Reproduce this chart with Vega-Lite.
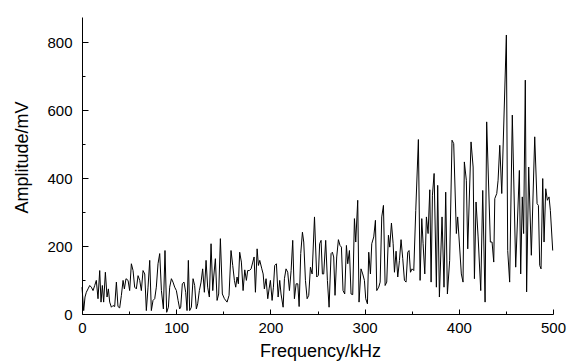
{
  "$schema": "https://vega.github.io/schema/vega-lite/v6.json",
  "width": 471,
  "height": 297,
  "autosize": {"type": "none"},
  "padding": {"left": 82, "top": 17, "right": 24, "bottom": 49},
  "background": "white",
  "config": {"view": {"stroke": null}, "font": "Liberation Sans"},
  "data": {"values": [
{"freq":0,"amp":79},{"freq":1.8,"amp":10},{"freq":3.2,"amp":50},{"freq":4.6,"amp":64},{"freq":6.4,"amp":74},{"freq":8.2,"amp":84},{"freq":9.9,"amp":79},{"freq":11.7,"amp":69},{"freq":13.5,"amp":84},{"freq":15.2,"amp":99},{"freq":17,"amp":45},{"freq":18.8,"amp":128},{"freq":20.2,"amp":35},{"freq":21.6,"amp":84},{"freq":23,"amp":35},{"freq":24.8,"amp":123},{"freq":26.6,"amp":50},{"freq":28,"amp":74},{"freq":29.4,"amp":35},{"freq":31.2,"amp":20},{"freq":32.9,"amp":25},{"freq":34.7,"amp":22},{"freq":36.5,"amp":94},{"freq":38.2,"amp":22},{"freq":40,"amp":18},{"freq":41.8,"amp":55},{"freq":43.6,"amp":99},{"freq":45,"amp":74},{"freq":46.7,"amp":104},{"freq":48.9,"amp":99},{"freq":50.6,"amp":69},{"freq":52.4,"amp":148},{"freq":54.2,"amp":128},{"freq":55.9,"amp":79},{"freq":57.7,"amp":74},{"freq":59.5,"amp":113},{"freq":61.3,"amp":99},{"freq":63,"amp":69},{"freq":64.8,"amp":128},{"freq":66.6,"amp":118},{"freq":68.3,"amp":10},{"freq":70.1,"amp":79},{"freq":71.9,"amp":158},{"freq":73.6,"amp":10},{"freq":75.4,"amp":40},{"freq":77.2,"amp":45},{"freq":78.9,"amp":79},{"freq":80.7,"amp":148},{"freq":82.5,"amp":178},{"freq":84.3,"amp":69},{"freq":86.4,"amp":15},{"freq":88.1,"amp":187},{"freq":89.9,"amp":5},{"freq":91.7,"amp":20},{"freq":93.1,"amp":79},{"freq":94.9,"amp":104},{"freq":96.6,"amp":94},{"freq":98.4,"amp":79},{"freq":100.2,"amp":69},{"freq":102,"amp":40},{"freq":103.7,"amp":15},{"freq":104.8,"amp":20},{"freq":106.5,"amp":89},{"freq":108.3,"amp":94},{"freq":110.1,"amp":64},{"freq":111.5,"amp":10},{"freq":112.9,"amp":158},{"freq":114.3,"amp":10},{"freq":116.1,"amp":20},{"freq":117.9,"amp":104},{"freq":119.6,"amp":84},{"freq":121.4,"amp":15},
{"freq":122.8,"amp":30},{"freq":124.6,"amp":69},{"freq":126.4,"amp":94},{"freq":128.1,"amp":133},{"freq":129.9,"amp":64},{"freq":131.7,"amp":158},{"freq":133.4,"amp":79},{"freq":135.2,"amp":50},{"freq":137,"amp":207},{"freq":138.8,"amp":69},{"freq":139.8,"amp":109},{"freq":141.6,"amp":163},{"freq":143.4,"amp":40},{"freq":145.1,"amp":59},{"freq":146.9,"amp":222},{"freq":149,"amp":59},{"freq":151.2,"amp":45},{"freq":154,"amp":35},{"freq":156.1,"amp":55},{"freq":158.2,"amp":187},{"freq":160,"amp":143},{"freq":161.8,"amp":99},{"freq":163.2,"amp":79},{"freq":164.6,"amp":109},{"freq":166,"amp":89},{"freq":167.4,"amp":182},{"freq":169.2,"amp":153},{"freq":171,"amp":69},{"freq":172.8,"amp":130},{"freq":174.5,"amp":99},{"freq":175.9,"amp":128},{"freq":177.7,"amp":128},{"freq":179.5,"amp":133},{"freq":181.3,"amp":153},{"freq":182.7,"amp":168},{"freq":184.1,"amp":64},{"freq":185.9,"amp":192},{"freq":187.3,"amp":143},{"freq":188.7,"amp":158},{"freq":190.9,"amp":133},{"freq":192.3,"amp":118},{"freq":193.6,"amp":74},{"freq":195.4,"amp":104},{"freq":197.2,"amp":45},{"freq":198.6,"amp":74},{"freq":200,"amp":99},{"freq":201.8,"amp":40},{"freq":203.2,"amp":79},{"freq":204.6,"amp":143},{"freq":206.4,"amp":148},{"freq":208.2,"amp":50},{"freq":209.9,"amp":99},{"freq":211.3,"amp":59},{"freq":213.5,"amp":20},{"freq":214.9,"amp":104},{"freq":216.6,"amp":133},{"freq":218.4,"amp":123},{"freq":220.2,"amp":69},{"freq":222,"amp":128},{"freq":223.7,"amp":217},{"freq":225.5,"amp":45},{"freq":227.3,"amp":89},{"freq":229.1,"amp":89},{"freq":230.5,"amp":22},{"freq":232.2,"amp":178},{"freq":234,"amp":241},{"freq":235.4,"amp":212},{"freq":237.2,"amp":99},{"freq":239,"amp":45},{"freq":240.7,"amp":55},{"freq":242.5,"amp":138},{"freq":244.3,"amp":118},{"freq":246.8,"amp":286},
{"freq":249.2,"amp":109},{"freq":250.9,"amp":114},{"freq":252.3,"amp":207},{"freq":253.8,"amp":217},{"freq":255.2,"amp":118},{"freq":256.6,"amp":118},{"freq":258.7,"amp":217},{"freq":260.5,"amp":99},{"freq":262.3,"amp":20},{"freq":264.4,"amp":178},{"freq":265.8,"amp":182},{"freq":267.2,"amp":168},{"freq":268.6,"amp":55},{"freq":270.4,"amp":168},{"freq":272.2,"amp":219},{"freq":273.9,"amp":202},{"freq":275.4,"amp":197},{"freq":277.1,"amp":69},{"freq":278.9,"amp":59},{"freq":280.7,"amp":202},{"freq":282.1,"amp":148},{"freq":283.9,"amp":187},{"freq":285.6,"amp":59},{"freq":287.4,"amp":57},{"freq":289.2,"amp":281},{"freq":290.6,"amp":212},{"freq":292.7,"amp":335},{"freq":294.1,"amp":35},{"freq":296.2,"amp":133},{"freq":298,"amp":118},{"freq":299.8,"amp":99},{"freq":301.2,"amp":45},{"freq":303,"amp":30},{"freq":304.4,"amp":182},{"freq":306.2,"amp":118},{"freq":307.6,"amp":207},{"freq":309.7,"amp":227},{"freq":311.5,"amp":276},{"freq":312.9,"amp":69},{"freq":315,"amp":79},{"freq":316.5,"amp":94},{"freq":318.2,"amp":286},{"freq":320,"amp":320},{"freq":321.8,"amp":84},{"freq":323.5,"amp":94},{"freq":325.3,"amp":232},{"freq":326.7,"amp":197},{"freq":328.5,"amp":268},{"freq":330.3,"amp":207},{"freq":331.7,"amp":123},{"freq":333.4,"amp":185},{"freq":335.2,"amp":109},{"freq":337,"amp":158},{"freq":338.7,"amp":219},{"freq":340.5,"amp":163},{"freq":342.3,"amp":99},{"freq":344,"amp":94},{"freq":345.8,"amp":182},{"freq":347.2,"amp":187},{"freq":348.7,"amp":123},{"freq":350.4,"amp":133},{"freq":352.2,"amp":128},{"freq":354.3,"amp":305},{"freq":357.1,"amp":514},{"freq":358.9,"amp":99},{"freq":360.7,"amp":281},{"freq":362.1,"amp":207},{"freq":363.9,"amp":118},{"freq":365.6,"amp":286},{"freq":367.4,"amp":237},{"freq":369.2,"amp":366},{"freq":370.6,"amp":94},{"freq":372,"amp":350},{"freq":373.8,"amp":414},
{"freq":376.2,"amp":79},{"freq":377.6,"amp":379},{"freq":379.4,"amp":50},{"freq":382.2,"amp":286},{"freq":384.3,"amp":79},{"freq":386.1,"amp":359},{"freq":387.9,"amp":59},{"freq":390.3,"amp":158},{"freq":392.8,"amp":512},{"freq":394.6,"amp":502},{"freq":397.4,"amp":237},{"freq":398.8,"amp":286},{"freq":402.7,"amp":118},{"freq":404.5,"amp":94},{"freq":405.9,"amp":448},{"freq":408,"amp":394},{"freq":409.5,"amp":192},{"freq":413,"amp":507},{"freq":415.2,"amp":433},{"freq":416.6,"amp":104},{"freq":418.3,"amp":330},{"freq":420.5,"amp":227},{"freq":423.3,"amp":69},{"freq":425.4,"amp":364},{"freq":427.9,"amp":35},{"freq":429.6,"amp":566},{"freq":433.5,"amp":212},{"freq":435.3,"amp":212},{"freq":437.1,"amp":153},{"freq":438.2,"amp":340},{"freq":440.3,"amp":355},{"freq":441.7,"amp":394},{"freq":443.5,"amp":497},{"freq":445.6,"amp":355},{"freq":450.5,"amp":822},{"freq":451.9,"amp":187},{"freq":454,"amp":94},{"freq":456.8,"amp":586},{"freq":460.4,"amp":138},{"freq":464.3,"amp":423},{"freq":465.7,"amp":118},{"freq":467.4,"amp":345},{"freq":468.8,"amp":237},{"freq":470.6,"amp":689},{"freq":472,"amp":65},{"freq":474.2,"amp":433},{"freq":477,"amp":173},{"freq":480.6,"amp":522},{"freq":483.1,"amp":325},{"freq":484.5,"amp":320},{"freq":485.9,"amp":143},{"freq":487.3,"amp":133},{"freq":489.1,"amp":399},{"freq":490.5,"amp":212},{"freq":492.3,"amp":369},{"freq":494,"amp":335},{"freq":495.8,"amp":345},{"freq":497.2,"amp":305},{"freq":499.7,"amp":187}
  ]},
  "layer": [
    {
      "mark": {"type": "line", "color": "black", "strokeWidth": 1},
      "encoding": {
        "x": {
          "field": "freq", "type": "quantitative",
          "scale": {"domain": [0, 500], "nice": false, "zero": false},
          "axis": {
            "orient": "bottom",
            "title": "Frequency/kHz",
            "values": [0, 100, 200, 300, 400, 500],
            "format": "d",
            "grid": false,
            "domainColor": "black", "domainWidth": 1,
            "tickColor": "black", "tickWidth": 1, "tickSize": -5,
            "labelPadding": 11,
            "labelFontSize": 15, "labelColor": "black", "labelFlush": false,
            "titleFontSize": 18, "titleFontWeight": "normal", "titleColor": "black",
            "titleX": 238, "titleY": 37, "titleBaseline": "middle", "titleAlign": "center"
          }
        },
        "y": {
          "field": "amp", "type": "quantitative",
          "scale": {"domain": [0, 875], "nice": false},
          "axis": {
            "orient": "left",
            "title": "Amplitude/mV",
            "values": [0, 200, 400, 600, 800],
            "format": "d",
            "grid": false,
            "domainColor": "black", "domainWidth": 1,
            "tickColor": "black", "tickWidth": 1, "tickSize": -6,
            "labelPadding": 16,
            "labelFontSize": 15, "labelColor": "black", "labelFlush": false,
            "titleFontSize": 18, "titleFontWeight": "normal", "titleColor": "black",
            "titleX": -60, "titleY": 140, "titleBaseline": "middle", "titleAlign": "center", "titleAngle": -90
          }
        }
      }
    },
    {
      "mark": {"type": "line", "color": "black", "strokeWidth": 1, "opacity": 0},
      "encoding": {
        "x": {
          "field": "freq", "type": "quantitative",
          "axis": {
            "orient": "bottom", "title": null, "labels": false, "domain": false, "grid": false,
            "values": [50, 150, 250, 350, 450],
            "tickColor": "black", "tickWidth": 1, "tickSize": -3
          }
        },
        "y": {
          "field": "amp", "type": "quantitative",
          "axis": {
            "orient": "left", "title": null, "labels": false, "domain": false, "grid": false,
            "values": [100, 300, 500, 700],
            "tickColor": "black", "tickWidth": 1, "tickSize": -3
          }
        }
      }
    }
  ],
  "resolve": {"axis": {"x": "independent", "y": "independent"}}
}
